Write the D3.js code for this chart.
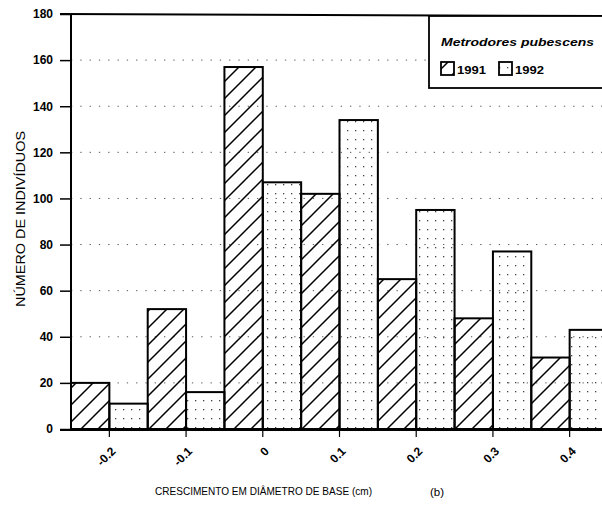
<!DOCTYPE html>
<html><head><meta charset="utf-8">
<script src="https://cdn.jsdelivr.net/npm/d3@7"></script>
<style>
body{margin:0;background:#fff;}
svg{display:block;font-family:"Liberation Sans",Arial,sans-serif;}
</style></head>
<body><svg id="c" width="602" height="508"></svg>
<script>
const categories = [-0.2, -0.1, 0, 0.1, 0.2, 0.3, 0.4];
const tickLabels = ["-0.2", "-0.1", "0", "0.1", "0.2", "0.3", "0.4"];
const years = ["1991", "1992"];
const series1991 = [20, 52, 157, 102, 65, 48, 31];
const series1992 = [11, 16, 107, 134, 95, 77, 43];
const yTicks = [0, 20, 40, 60, 80, 100, 120, 140, 160, 180];

const svg = d3.select("#c");
const mLeft = 71, mRight = 608, mTop = 14, mBottom = 429;

const x = d3.scaleBand().domain(categories).range([mLeft, mRight]).padding(0);
const xi = d3.scaleBand().domain(years).range([0, x.bandwidth()]).padding(0);
const y = d3.scaleLinear().domain([0, 180]).range([mBottom, mTop]);

const defs = svg.append("defs");
const hs = 17;
const hatch = defs.append("pattern").attr("id", "hatch").attr("patternUnits", "userSpaceOnUse")
  .attr("width", hs).attr("height", hs);
hatch.append("path").attr("d", `M-2,${hs + 2} L${hs + 2},-2 M-2,2 L2,-2 M${hs - 2},${hs + 2} L${hs + 2},${hs - 2}`)
  .attr("stroke", "#000").attr("stroke-width", 1.5);
const dots = defs.append("pattern").attr("id", "dots").attr("patternUnits", "userSpaceOnUse")
  .attr("width", 8).attr("height", 9);
dots.append("rect").attr("x", 3).attr("y", 4).attr("width", 1.3).attr("height", 1.3).attr("fill", "#444");

// gridlines
svg.append("g").selectAll("line").data(yTicks.filter(d => d > 0 && d < 180)).join("line")
  .attr("x1", mLeft).attr("x2", 602).attr("y1", d => y(d)).attr("y2", d => y(d))
  .attr("stroke", "#555").attr("stroke-width", 1).attr("stroke-dasharray", "1.3,8");

// bars
const data = [];
categories.forEach((c, i) => {
  data.push({c, yr: "1991", v: series1991[i]});
  data.push({c, yr: "1992", v: series1992[i]});
});
svg.append("g").selectAll("rect").data(data).join("rect")
  .attr("x", d => x(d.c) + xi(d.yr))
  .attr("y", d => y(d.v))
  .attr("width", xi.bandwidth())
  .attr("height", d => y(0) - y(d.v))
  .attr("fill", d => d.yr === "1991" ? "url(#hatch)" : "url(#dots)");
svg.append("g").selectAll("rect").data(data).join("rect")
  .attr("x", d => x(d.c) + xi(d.yr))
  .attr("y", d => y(d.v))
  .attr("width", xi.bandwidth())
  .attr("height", d => y(0) - y(d.v))
  .attr("fill", "none").attr("stroke", "#000").attr("stroke-width", 2);

// top frame
svg.append("line").attr("x1", 60).attr("x2", 602).attr("y1", y(180)).attr("y2", y(180) + 2)
  .attr("stroke", "#000").attr("stroke-width", 2);

// y axis
const ya = svg.append("g").attr("transform", `translate(${mLeft},0)`)
  .call(d3.axisLeft(y).tickValues(yTicks).tickSize(11).tickPadding(7));
ya.select(".domain").attr("stroke-width", 2).attr("d", `M0,${mTop}V${mBottom + 1}`);
ya.selectAll(".tick line").attr("stroke-width", 1.5);
ya.selectAll("text").attr("font-size", 12).attr("font-weight", "bold").attr("fill", "#000");

// x axis
const xa = svg.append("g").attr("transform", `translate(0,${mBottom + 1})`)
  .call(d3.axisBottom(x).tickFormat((d, i) => tickLabels[i]).tickSize(7).tickPadding(4));
xa.select(".domain").attr("stroke-width", 2.2).attr("d", `M60,0H602`);
xa.selectAll(".tick line").attr("stroke-width", 1.2);
xa.selectAll(".tick text").attr("font-size", 12).attr("font-weight", "bold").attr("fill", "#000")
  .attr("text-anchor", "end").attr("dy", 0).attr("y", 0)
  .attr("transform", "translate(7,22) rotate(-45)");

// axis titles
svg.append("text").attr("transform", "translate(25,219) rotate(-90)")
  .attr("text-anchor", "middle").attr("font-size", 12.5).attr("fill", "#000")
  .attr("textLength", 176).attr("lengthAdjust", "spacingAndGlyphs")
  .text("NÚMERO DE INDIVÍDUOS");
svg.append("text").attr("x", 155).attr("y", 495).attr("font-size", 11).attr("fill", "#000")
  .attr("textLength", 217).attr("lengthAdjust", "spacingAndGlyphs")
  .text("CRESCIMENTO EM DIÂMETRO DE BASE (cm)");
svg.append("text").attr("x", 430).attr("y", 496).attr("font-size", 11.5).attr("fill", "#000")
  .text("(b)");

// legend
const lg = svg.append("g");
lg.append("rect").attr("x", 429).attr("y", 16).attr("width", 200).attr("height", 72)
  .attr("fill", "#fff").attr("stroke", "#000").attr("stroke-width", 1.8);
lg.append("text").attr("x", 441).attr("y", 46).attr("font-size", 11.5).attr("font-weight", "bold")
  .attr("font-style", "italic").attr("textLength", 153).attr("lengthAdjust", "spacingAndGlyphs")
  .text("Metrodores pubescens");
const items = [{yr: "1991", fill: "url(#hatch)", x: 441}, {yr: "1992", fill: "url(#dots)", x: 499}];
items.forEach(it => {
  lg.append("rect").attr("x", it.x).attr("y", 62).attr("width", 13).attr("height", 13)
    .attr("fill", it.fill).attr("stroke", "#000").attr("stroke-width", 1.8);
  lg.append("text").attr("x", it.x + 16).attr("y", 74).attr("font-size", 11.5).attr("font-weight", "bold")
    .attr("textLength", 29).attr("lengthAdjust", "spacingAndGlyphs")
    .text(it.yr);
});
</script></body></html>
